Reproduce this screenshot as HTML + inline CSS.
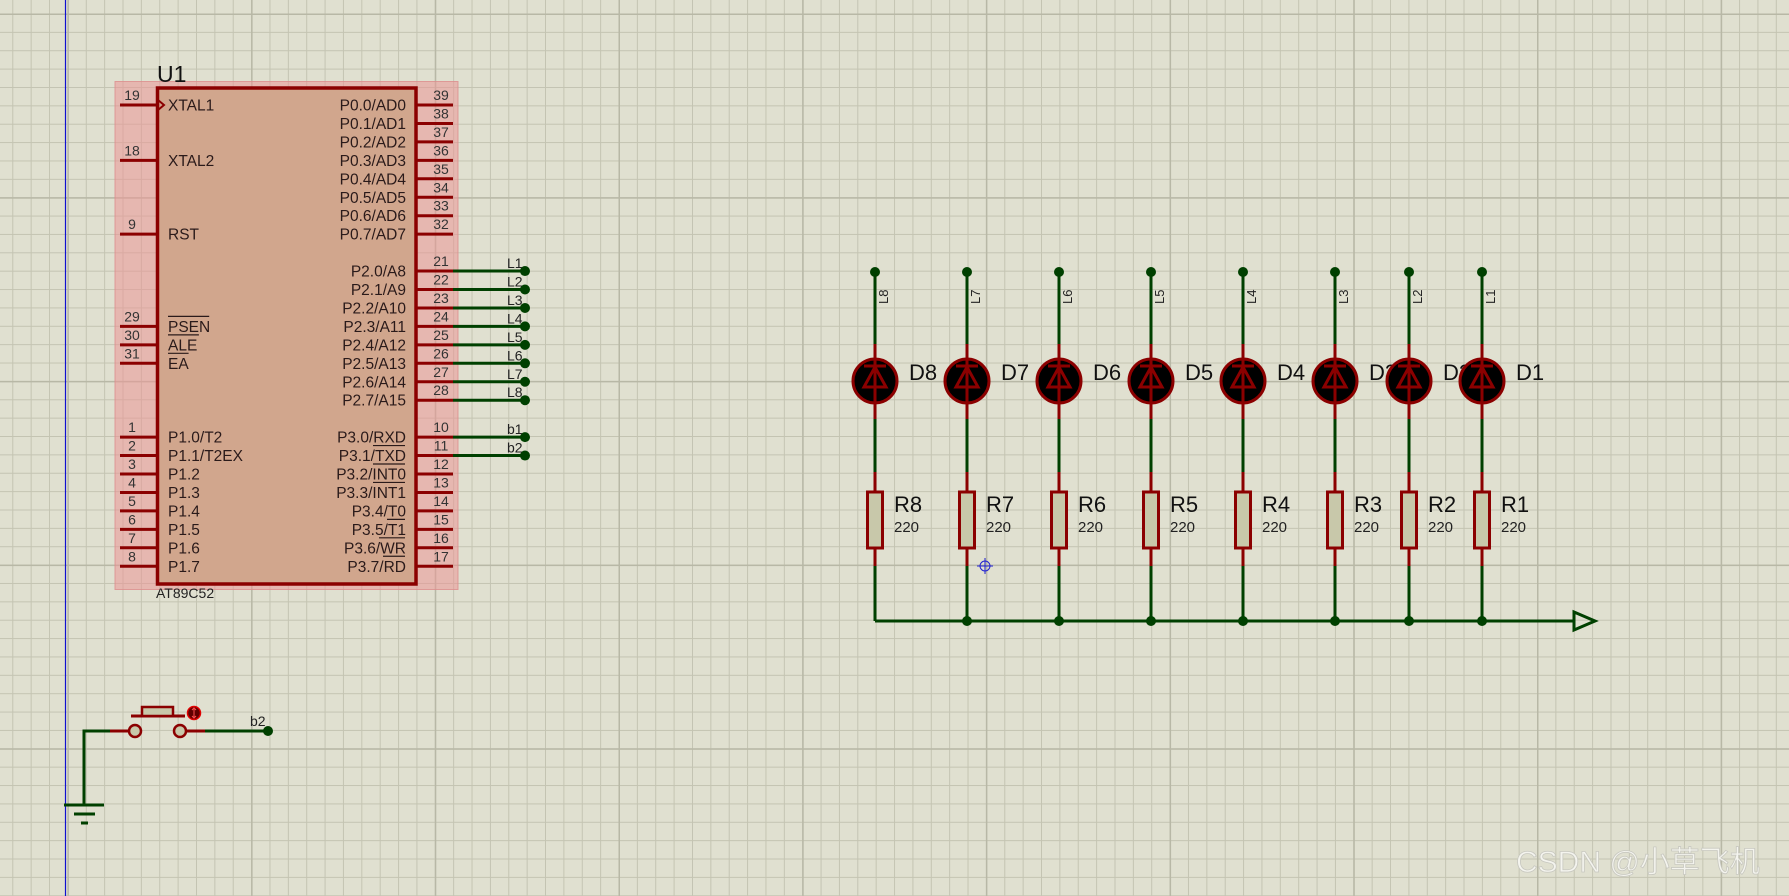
<!DOCTYPE html>
<html><head><meta charset="utf-8"><style>
html,body{margin:0;padding:0;background:#e0e0d0;overflow:hidden}
svg{display:block}
text{font-family:"Liberation Sans","Noto Sans CJK SC",sans-serif}
</style></head><body>
<svg id="s" width="1789" height="896" xmlns="http://www.w3.org/2000/svg">
<defs>
<pattern id="mi" width="18.37" height="18.37" patternUnits="userSpaceOnUse" x="67.4" y="13.5">
<path d="M0 0.5H18.37M0.5 0V18.37" stroke="#c4c4b2" stroke-width="1" fill="none"/>
</pattern>
<pattern id="ma" width="183.7" height="183.7" patternUnits="userSpaceOnUse" x="67.4" y="13.5">
<path d="M0 0.5H183.7M0.5 0V183.7" stroke="#b8b8a6" stroke-width="2" fill="none"/>
</pattern>
</defs>
<rect width="1789" height="896" fill="#e0e0d0"/>
<rect width="1789" height="896" fill="url(#mi)"/>
<rect width="1789" height="896" fill="url(#ma)"/>
<line x1="65.5" y1="0" x2="65.5" y2="896" stroke="#1010d0" stroke-width="1.2"/>
<g id="g"></g>
<text x="1516" y="872" font-size="30" fill="#f4f4ee" stroke="#c8c8c0" stroke-width="0.8">CSDN @小草飞机</text>
</svg>
<script>
const g=document.getElementById('g');let h='';
const R='#8b0000',G='#004000';
// chip
h+=`<rect x="115" y="81.5" width="343" height="508" fill="rgba(235,150,150,0.55)" stroke="rgba(220,140,140,0.8)" stroke-width="1"/>`;
h+=`<rect x="157.5" y="88" width="258.5" height="496" fill="#d1a68d" stroke="${R}" stroke-width="3.5"/>`;
h+=`<text x="157" y="82" font-size="23" fill="#111">U1</text>`;
h+=`<text x="156" y="598" font-size="14" fill="#222">AT89C52</text>`;
const Y=k=>105+18.45*k;
const L=[[0,'19','XTAL1'],[3,'18','XTAL2'],[7,'9','RST'],[12,'29','PSEN',1],[13,'30','ALE',1],[14,'31','EA',1],
[18,'1','P1.0/T2'],[19,'2','P1.1/T2EX'],[20,'3','P1.2'],[21,'4','P1.3'],[22,'5','P1.4'],[23,'6','P1.5'],[24,'7','P1.6'],[25,'8','P1.7']];
for(const [k,n,t,o] of L){const y=Y(k);
h+=`<line x1="120" y1="${y}" x2="157" y2="${y}" stroke="${R}" stroke-width="3"/>`;
h+=`<text x="132" y="${y-5}" font-size="14" text-anchor="middle" fill="#333">${n}</text>`;
h+=`<text x="168" y="${y+5.5}" font-size="15.5" fill="#2a1a1a">${t}</text>`;
if(o){const w=t.length*10.3;h+=`<line x1="168" y1="${y-10}" x2="${168+w}" y2="${y-10}" stroke="#2a1a1a" stroke-width="1.2"/>`;}}
h+=`<path d="M158 100 L164 105 L158 110" fill="none" stroke="${R}" stroke-width="2"/>`;
const Rt=[[0,'39','P0.0/AD0'],[1,'38','P0.1/AD1'],[2,'37','P0.2/AD2'],[3,'36','P0.3/AD3'],[4,'35','P0.4/AD4'],[5,'34','P0.5/AD5'],[6,'33','P0.6/AD6'],[7,'32','P0.7/AD7'],
[9,'21','P2.0/A8','L1'],[10,'22','P2.1/A9','L2'],[11,'23','P2.2/A10','L3'],[12,'24','P2.3/A11','L4'],[13,'25','P2.4/A12','L5'],[14,'26','P2.5/A13','L6'],[15,'27','P2.6/A14','L7'],[16,'28','P2.7/A15','L8'],
[18,'10','P3.0/RXD','b1'],[19,'11','P3.1/TXD','b2'],[20,'12','P3.2/INT0'],[21,'13','P3.3/INT1'],[22,'14','P3.4/T0'],[23,'15','P3.5/T1'],[24,'16','P3.6/WR'],[25,'17','P3.7/RD']];
const ov={'P3.1/TXD':[373,405],'P3.2/INT0':[373,405],'P3.3/INT1':[373,405],'P3.5/T1':[387,405],'P3.6/WR':[379,405],'P3.7/RD':[383,405]};
for(const [k,n,t,w] of Rt){const y=Y(k);
h+=`<line x1="416" y1="${y}" x2="453" y2="${y}" stroke="${R}" stroke-width="3"/>`;
h+=`<text x="441" y="${y-5}" font-size="14" text-anchor="middle" fill="#333">${n}</text>`;
h+=`<text x="406" y="${y+5.5}" font-size="15.5" text-anchor="end" fill="#2a1a1a">${t}</text>`;
if(ov[t])h+=`<line x1="${ov[t][0]}" y1="${y-10}" x2="${ov[t][1]}" y2="${y-10}" stroke="#2a1a1a" stroke-width="1.2"/>`;
if(w){h+=`<line x1="453" y1="${y}" x2="525" y2="${y}" stroke="${G}" stroke-width="3"/><circle cx="525" cy="${y}" r="5" fill="${G}"/>`;
h+=`<text x="507" y="${y-3}" font-size="14" fill="#222">${w}</text>`;}}
// LEDs
const cols=[875,967,1059,1151,1243,1335,1409,1482];
const dn=['D8','D7','D6','D5','D4','D3','D2','D1'];
for(let i=0;i<8;i++){const x=cols[i],n=8-i;
h+=`<line x1="${x}" y1="272" x2="${x}" y2="621" stroke="${G}" stroke-width="3"/>`;
h+=`<circle cx="${x}" cy="272" r="5" fill="${G}"/>`;
h+=`<text transform="translate(${x+13},${304}) rotate(-90)" font-size="13" fill="#222">L${n}</text>`;
h+=`<line x1="${x}" y1="344" x2="${x}" y2="419" stroke="${R}" stroke-width="3"/>`;
h+=`<circle cx="${x}" cy="381" r="22" fill="#000" stroke="${R}" stroke-width="3"/>`;
h+=`<line x1="${x}" y1="358" x2="${x}" y2="404" stroke="${R}" stroke-width="3"/>`;
h+=`<line x1="${x-11}" y1="366" x2="${x+11}" y2="366" stroke="${R}" stroke-width="3"/>`;
h+=`<path d="M${x} 367 L${x-11} 387 L${x+11} 387 Z" fill="none" stroke="${R}" stroke-width="3"/>`;
h+=`<text x="${x+34}" y="380" font-size="22" fill="#111">${dn[i]}</text>`;
h+=`<line x1="${x}" y1="472" x2="${x}" y2="566" stroke="${R}" stroke-width="3"/>`;
h+=`<rect x="${x-7.5}" y="492" width="15" height="56" fill="#c8c8aa" stroke="${R}" stroke-width="3"/>`;
h+=`<text x="${x+19}" y="512" font-size="22" fill="#111">R${n}</text>`;
h+=`<text x="${x+19}" y="532" font-size="15" fill="#222">220</text>`;
if(i>0)h+=`<circle cx="${x}" cy="621" r="5" fill="${G}"/>`;}
h+=`<line x1="875" y1="621" x2="1574" y2="621" stroke="${G}" stroke-width="3"/>`;
h+=`<path d="M1574 612 L1595 621 L1574 630 Z" fill="none" stroke="${G}" stroke-width="3"/>`;
// cursor
h+=`<circle cx="985" cy="566" r="5" fill="none" stroke="#2020d0" stroke-width="1"/><path d="M977 566H993M985 558V574" stroke="#2020d0" stroke-width="1"/>`;
// switch + ground
h+=`<path d="M110 731 H84 V805" fill="none" stroke="${G}" stroke-width="3"/>`;
h+=`<line x1="64" y1="805" x2="104" y2="805" stroke="${G}" stroke-width="3"/><line x1="74" y1="814" x2="95" y2="814" stroke="${G}" stroke-width="3"/><line x1="81" y1="823" x2="88" y2="823" stroke="${G}" stroke-width="3"/>`;
h+=`<line x1="110" y1="731" x2="129" y2="731" stroke="${R}" stroke-width="3"/><line x1="187" y1="731" x2="205" y2="731" stroke="${R}" stroke-width="3"/>`;
h+=`<circle cx="135" cy="731" r="6" fill="#c8c8aa" stroke="${R}" stroke-width="2.5"/><circle cx="180" cy="731" r="6" fill="#c8c8aa" stroke="${R}" stroke-width="2.5"/>`;
h+=`<line x1="131" y1="716" x2="185" y2="716" stroke="${R}" stroke-width="3"/><rect x="142" y="707" width="31" height="9" fill="#c8c8aa" stroke="${R}" stroke-width="2.5"/>`;
h+=`<circle cx="194" cy="713" r="6.5" fill="#600000" stroke="#e00000" stroke-width="1.5"/><path d="M194 709V717M192 710L194 708L196 710M192 716L194 718L196 716" stroke="#ff5050" stroke-width="1" fill="none"/>`;
h+=`<line x1="205" y1="731" x2="268" y2="731" stroke="${G}" stroke-width="3"/><circle cx="268" cy="731" r="5" fill="${G}"/>`;
h+=`<text x="250" y="726" font-size="14" fill="#222">b2</text>`;
g.innerHTML=h;
</script>
</body></html>
